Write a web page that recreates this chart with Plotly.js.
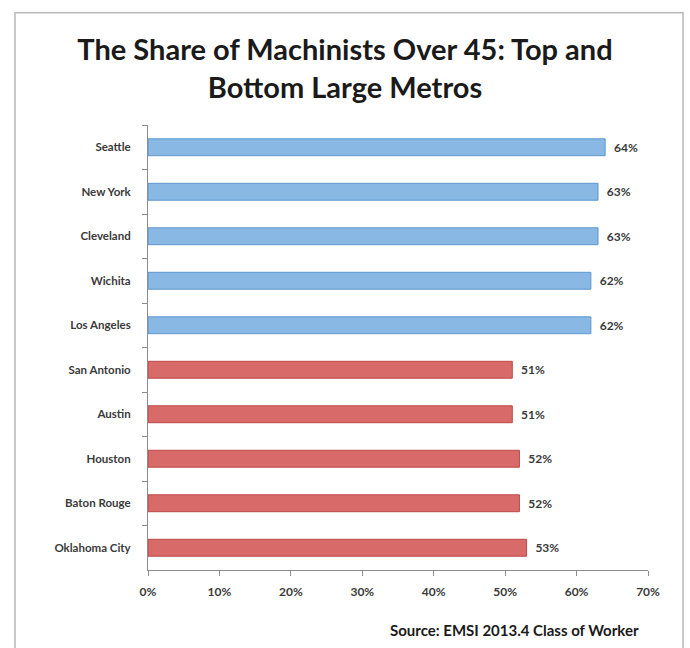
<!DOCTYPE html>
<html>
<head>
<meta charset="utf-8">
<script src="https://cdn.plot.ly/plotly-3.0.1.min.js"></script>
<style>
  html, body { margin: 0; padding: 0; background: #ffffff; }
  #chart { width: 690px; height: 648px; }
</style>
</head>
<body>
<div id="chart"></div>
<script>
// Data
var topMetros = ["Seattle", "New York", "Cleveland", "Wichita", "Los Angeles"];
var topShares = [64, 63, 63, 62, 62];
var bottomMetros = ["San Antonio", "Austin", "Houston", "Baton Rouge", "Oklahoma City"];
var bottomShares = [51, 51, 52, 52, 53];
var xTickValues = [0, 10, 20, 30, 40, 50, 60, 70];
var xTickLabels = ["0%", "10%", "20%", "30%", "40%", "50%", "60%", "70%"];
var chartTitle = "The Share of Machinists Over 45: Top and<br>Bottom Large Metros";
var sourceNote = "Source: EMSI 2013.4 Class of Worker";

var allMetros = topMetros.concat(bottomMetros);
var fontFam = "Lato, 'Open Sans', sans-serif";
var pad = "\u00a0\u00a0";

var traces = [
  {
    type: "bar",
    orientation: "h",
    y: topMetros,
    x: topShares,
    marker: { color: "#88b8e3", line: { color: "#5d97cc", width: 1 } },
    text: topShares.map(function (v) { return pad + v + "%"; }),
    textposition: "outside",
    cliponaxis: false,
    textfont: { family: fontFam, size: 12, color: "#3a3a3a", weight: "bold" },
    hoverinfo: "x+y",
    showlegend: false
  },
  {
    type: "bar",
    orientation: "h",
    y: bottomMetros,
    x: bottomShares,
    marker: { color: "#d86a69", line: { color: "#bc4a47", width: 1 } },
    text: bottomShares.map(function (v) { return pad + v + "%"; }),
    textposition: "outside",
    cliponaxis: false,
    textfont: { family: fontFam, size: 12, color: "#3a3a3a", weight: "bold" },
    hoverinfo: "x+y",
    showlegend: false
  }
];

var layout = {
  width: 690,
  height: 648,
  margin: { l: 148, r: 42, t: 125, b: 78, pad: 0 },
  paper_bgcolor: "#ffffff",
  plot_bgcolor: "rgba(0,0,0,0)",
  barmode: "overlay",
  bargap: 0.62,
  font: { family: fontFam, color: "#333333" },
  title: {
    text: chartTitle,
    font: { family: fontFam, size: 29, color: "#1a1a1a", weight: "bold" },
    x: 0.5,
    xref: "container",
    y: 0.907,
    yref: "container",
    yanchor: "middle"
  },
  xaxis: {
    range: [0, 70],
    tickvals: xTickValues,
    ticktext: xTickLabels,
    showgrid: false,
    zeroline: false,
    showline: true,
    linecolor: "#8c8c8c",
    linewidth: 1,
    ticks: "outside",
    ticklen: 5,
    tickcolor: "#8c8c8c",
    tickfont: { family: fontFam, size: 12, color: "#3a3a3a", weight: "bold" },
    ticklabelstandoff: 6,
    fixedrange: true
  },
  yaxis: {
    type: "category",
    categoryorder: "array",
    categoryarray: allMetros,
    autorange: "reversed",
    tickson: "boundaries",
    showgrid: false,
    zeroline: false,
    showline: true,
    linecolor: "#8c8c8c",
    linewidth: 1,
    ticks: "outside",
    ticklen: 5,
    tickcolor: "#8c8c8c",
    tickfont: { family: fontFam, size: 11.5, color: "#3a3a3a", weight: "bold" },
    ticklabelstandoff: 14,
    fixedrange: true
  },
  shapes: [
    {
      type: "rect",
      xref: "paper", yref: "paper",
      x0: -0.266, x1: 1.07,
      y0: -0.18, y1: 1.252,
      line: { color: "#b8b8b8", width: 1.5 },
      fillcolor: "rgba(0,0,0,0)",
      layer: "below"
    }
  ],
  annotations: [
    {
      text: sourceNote,
      xref: "paper", yref: "paper",
      x: 0.986, y: -0.135,
      xanchor: "right", yanchor: "middle",
      showarrow: false,
      font: { family: fontFam, size: 15, color: "#1a1a1a", weight: "bold" }
    }
  ]
};

Plotly.newPlot("chart", traces, layout, { displayModeBar: false, staticPlot: true });
</script>
</body>
</html>
